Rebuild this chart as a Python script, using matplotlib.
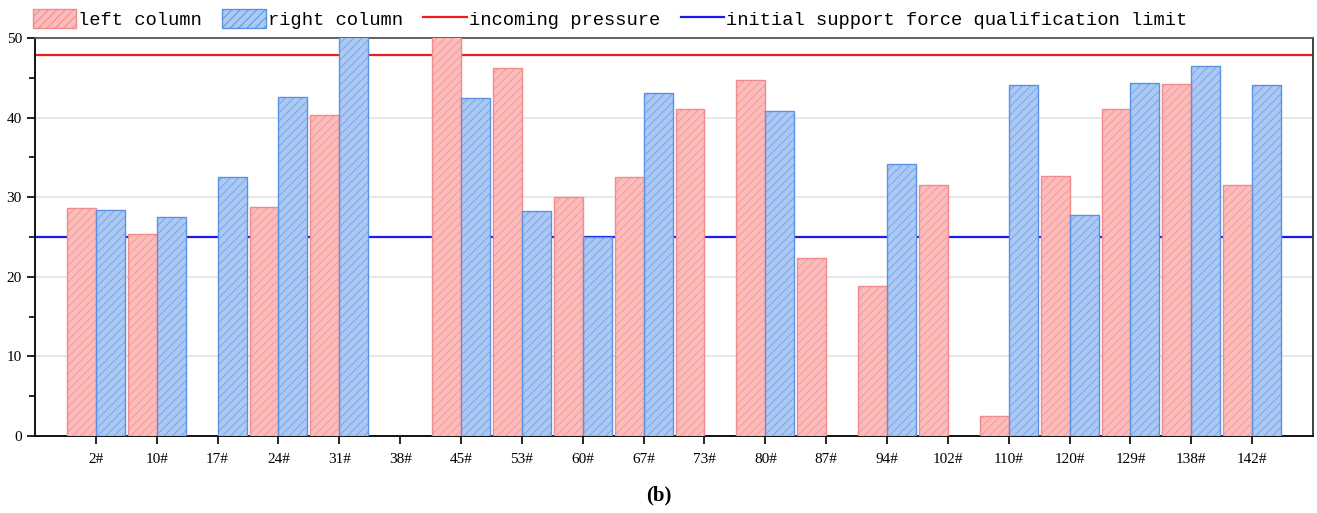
import numpy as np
import matplotlib.pyplot as plt
from matplotlib.patches import Patch
from matplotlib.lines import Line2D

# support numbers along the face
supports = ["2#", "10#", "17#", "24#", "31#", "38#", "45#", "53#", "60#", "67#",
            "73#", "80#", "87#", "94#", "102#", "110#", "120#", "129#", "138#", "142#"]
left_col = [28.6, 25.4, 0, 28.8, 40.3, 0, 50.5, 46.2, 30.0, 32.5,
            41.1, 44.7, 22.4, 18.8, 31.5, 2.5, 32.7, 41.1, 44.2, 31.5]
right_col = [28.4, 27.5, 32.5, 42.6, 50.5, 0, 42.5, 28.3, 25.0, 43.1,
             0, 40.8, 0, 34.2, 0, 44.1, 27.8, 44.3, 46.5, 44.1]
incoming_pressure = 47.9
support_limit = 25.0

plt.rcParams['hatch.linewidth'] = 0.7
fig = plt.figure(figsize=(13.17, 5.13), dpi=100)
ax = fig.add_axes([0.0266, 0.150, 0.9704, 0.776])

x = np.arange(len(supports))
w = 0.475
# zero means no reading -> no bar at all
lv = np.where(np.array(left_col) > 0, left_col, np.nan)
rv = np.where(np.array(right_col) > 0, right_col, np.nan)

pink_fill, pink_hatch, pink_edge = '#fcbcbc', '#f29a9a', '#f28a8a'
blue_fill, blue_hatch, blue_edge = '#abc9f3', '#7aa6ec', '#5a92e6'

# fill + hatch layer, then outline layer
ax.bar(x - w / 2, lv, w, color=pink_fill, edgecolor=pink_hatch, lw=0, hatch='////', zorder=3)
ax.bar(x - w / 2, lv, w, fill=False, edgecolor=pink_edge, lw=1.0, zorder=4)
ax.bar(x + w / 2, rv, w, color=blue_fill, edgecolor=blue_hatch, lw=0, hatch='////', zorder=3)
ax.bar(x + w / 2, rv, w, fill=False, edgecolor=blue_edge, lw=1.0, zorder=4)

ax.axhline(incoming_pressure, color='#ee1c1c', lw=1.6, zorder=2)
ax.axhline(support_limit, color='#1a1aee', lw=1.6, zorder=2)

ax.set_xlim(-1, 20)
ax.set_ylim(0, 50)
ax.set_xticks(x)
ax.set_xticklabels(supports, fontfamily='Liberation Serif', fontsize=11)
ax.set_yticks(np.arange(0, 51, 10))
ax.set_yticks(np.arange(5, 50, 10), minor=True)
ax.tick_params(axis='y', labelsize=11, length=6, width=1.2)
ax.tick_params(axis='y', which='minor', length=4, width=1.2)
ax.tick_params(axis='x', length=6, width=1.2, pad=6)
for lab in ax.get_yticklabels():
    lab.set_fontfamily('Liberation Serif')
ax.grid(axis='y', color='#e3e3e3', lw=1.2, zorder=0)
for s in ax.spines.values():
    s.set_linewidth(1.3)
ax.spines['top'].set_color('#555555')
ax.spines['right'].set_color('#333333')

handles = [
    Patch(facecolor=pink_fill, edgecolor=pink_edge, hatch='////', lw=1.0, label='left column'),
    Patch(facecolor=blue_fill, edgecolor=blue_edge, hatch='////', lw=1.0, label='right column'),
    Line2D([], [], color='#ee1c1c', lw=1.6, label='incoming pressure'),
    Line2D([], [], color='#1a1aee', lw=1.6, label='initial support force qualification limit'),
]
fig.legend(handles=handles, loc='upper left', bbox_to_anchor=(0.012, 1.015),
           ncol=4, frameon=False, prop={'family': 'Liberation Mono', 'size': 13.5},
           handlelength=2.3, handleheight=1.2, handletextpad=0.12, columnspacing=1.1)

fig.text(0.5, 0.035, '(b)', ha='center', va='center', fontfamily='Liberation Serif',
         fontsize=15, fontweight='bold')

fig.savefig('out.png', dpi=100)
